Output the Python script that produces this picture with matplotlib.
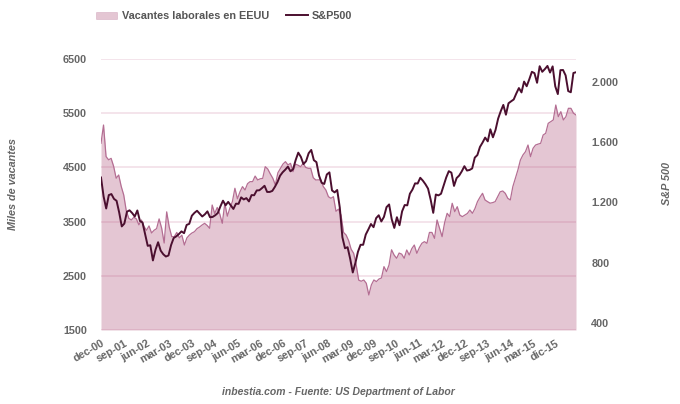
import numpy as np
import matplotlib
matplotlib.use("Agg")
import matplotlib.pyplot as plt
from matplotlib.patches import Patch
from matplotlib.lines import Line2D

plt.rcParams["font.family"] = ["Liberation Sans", "DejaVu Sans"]

# Job openings (thousands), monthly, dec-00 onwards
vacantes = [
    4945, 5282, 4700, 4640, 4667, 4520, 4300, 4360, 4150, 3990,
    3700, 3560, 3530, 3580, 3550, 3440, 3530, 3410, 3340, 3420,
    3290, 3340, 3370, 3550, 3380, 3105, 3680, 3400, 3222, 3222,
    3300, 3200, 3250, 3068, 3200, 3253, 3290, 3314, 3370, 3400,
    3437, 3468, 3430, 3376, 3806, 3650, 3760, 3640, 3468, 3837,
    3600, 3750, 3868, 4115, 3920, 4050, 4145, 4083, 4200, 4237,
    4237, 4340, 4268, 4290, 4298, 4513, 4470, 4380, 4300, 4175,
    4400, 4480, 4560, 4606, 4545, 4575, 4421, 4560, 4540, 4513,
    4575, 4500, 4483, 4483, 4310, 4268, 4270, 4268, 4145, 4083,
    3960, 3930, 3960, 3690, 3730, 3620, 3300, 3253, 3150, 2990,
    2915, 2700, 2420, 2400, 2423, 2362, 2146, 2331, 2423, 2393,
    2440, 2460, 2669, 2577, 2700, 2980, 2884, 2823, 2920, 2900,
    2823, 2976, 2884, 3000, 3068, 2915, 3020, 3100, 3130, 3099,
    3300, 3300, 3191, 3530, 3376, 3222, 3480, 3653, 3591, 3838,
    3683, 3775, 3622, 3591, 3620, 3650, 3714, 3653, 3740, 3868,
    3950, 4022, 3899, 3868, 3840, 3850, 3868, 3960, 4050, 4065,
    4022, 3930, 3899, 4145, 4298, 4452, 4637, 4729, 4790, 4913,
    4698, 4852, 4913, 4930, 4944, 5098, 5129, 5313, 5344, 5375,
    5651, 5436, 5528, 5375, 5436, 5590, 5590, 5500, 5467,
]

# S&P500 monthly close, jan-01 .. apr-16 (own hidden x axis)
sp500 = [
    1366, 1240, 1160, 1249, 1256, 1224, 1211, 1134, 1041, 1060, 1139, 1148,
    1130, 1107, 1147, 1077, 1067, 990, 912, 916, 815, 886, 936, 880,
    856, 841, 848, 917, 964, 975, 990, 1008, 996, 1051, 1058, 1112,
    1131, 1145, 1126, 1107, 1121, 1141, 1102, 1104, 1115, 1130, 1174, 1212,
    1181, 1204, 1181, 1157, 1192, 1191, 1234, 1220, 1229, 1207, 1249, 1248,
    1280, 1281, 1295, 1311, 1270, 1270, 1277, 1304, 1336, 1378, 1401, 1418,
    1438, 1407, 1421, 1482, 1531, 1503, 1455, 1474, 1527, 1549, 1481, 1468,
    1379, 1331, 1323, 1386, 1400, 1280, 1267, 1283, 1166, 969, 896, 903,
    826, 735, 798, 873, 919, 919, 987, 1021, 1057, 1036, 1096, 1115,
    1074, 1104, 1169, 1187, 1089, 1031, 1102, 1049, 1141, 1183, 1181, 1258,
    1286, 1327, 1326, 1364, 1345, 1321, 1292, 1219, 1131, 1253, 1247, 1258,
    1312, 1366, 1408, 1398, 1310, 1362, 1379, 1407, 1441, 1412, 1416, 1426,
    1498, 1515, 1569, 1598, 1631, 1606, 1686, 1633, 1682, 1757, 1806, 1848,
    1783, 1859, 1872, 1884, 1924, 1960, 1931, 2003, 1972, 2018, 2068, 2059,
    1995, 2105, 2068, 2086, 2107, 2063, 2104, 1972, 1920, 2079, 2080, 2044,
    1940, 1932, 2060, 2065,
]

etiquetas = ["dec-00", "sep-01", "jun-02", "mar-03", "dec-03", "sep-04",
             "jun-05", "mar-06", "dec-06", "sep-07", "jun-08", "mar-09",
             "dec-09", "sep-10", "jun-11", "mar-12", "dec-12", "sep-13",
             "jun-14", "mar-15", "dic-15"]
paso_etiquetas = 9

izq_ticks = [1500, 2500, 3500, 4500, 5500, 6500]
der_ticks = [400, 800, 1200, 1600, 2000]
der_labels = ["400", "800", "1.200", "1.600", "2.000"]

txt = "#666666"
fill_col = "#a8436f"
edge_col = "#b46e93"
sp_col = "#4b0f2f"
grid_col = "#f2dfe8"
fs = 7.8

fig = plt.figure(figsize=(6.8, 4.04), dpi=100)
rect = [101 / 680, 1 - 330 / 404, 475 / 680, 271 / 404]
ax = fig.add_axes(rect)

x = np.arange(len(vacantes))
ax.fill_between(x, 1500, vacantes, color=fill_col, alpha=0.3, lw=0, zorder=2)
ax.plot(x, vacantes, color=edge_col, lw=0.9, zorder=3)
ax.set_xlim(0, len(vacantes) - 1)
ax.set_ylim(1500, 6500)
ax.set_yticks(izq_ticks)
ax.set_yticklabels([str(v) for v in izq_ticks])
for y in izq_ticks:
    ax.axhline(y, color=grid_col, lw=1.2, zorder=1)
ax.set_xticks(np.arange(len(etiquetas)) * paso_etiquetas)
ax.set_xticklabels(etiquetas, rotation=30, ha="right", rotation_mode="anchor")
for s in ax.spines.values():
    s.set_visible(False)
ax.tick_params(axis="both", length=0, labelsize=fs, labelcolor=txt)
ax.tick_params(axis="y", pad=10)
ax.tick_params(axis="x", pad=6)
for lab in ax.get_xticklabels() + ax.get_yticklabels():
    lab.set_fontweight("bold")
ax.set_ylabel("Miles de vacantes", fontsize=fs, fontweight="bold",
              fontstyle="italic", color=txt)
ax.yaxis.set_label_coords(-0.175, 0.54)

ax2 = fig.add_axes(rect, frameon=False)
ax2.plot(np.arange(len(sp500)), sp500, color=sp_col, lw=1.4, zorder=4)
ax2.set_xlim(0, len(sp500) - 1)
ax2.set_ylim(353, 2153)
ax2.xaxis.set_visible(False)
ax2.yaxis.tick_right()
ax2.yaxis.set_label_position("right")
ax2.set_yticks(der_ticks)
ax2.set_yticklabels(der_labels)
ax2.tick_params(axis="y", length=0, labelsize=fs, labelcolor=txt, pad=11)
for lab in ax2.get_yticklabels():
    lab.set_fontweight("bold")
ax2.set_ylabel("S&P 500", fontsize=fs, fontweight="bold", fontstyle="italic",
               color=txt, rotation=90)
ax2.yaxis.set_label_coords(1.182, 0.54)

handles = [Patch(facecolor=fill_col, alpha=0.3, edgecolor=edge_col, lw=0.6),
           Line2D([], [], color=sp_col, lw=1.4)]
fig.legend(handles, ["Vacantes laborales en EEUU", "S&P500"],
           loc="center", bbox_to_anchor=(224 / 680, 1 - 16 / 404), ncol=2,
           frameon=False, handlelength=2.0, handleheight=0.6,
           columnspacing=1.6, handletextpad=0.4,
           prop={"weight": "bold", "size": 7.8})
for t in fig.legends[0].get_texts():
    t.set_color("#555555")

fig.text(338 / 680, 1 - 392 / 404, "inbestia.com - Fuente: US Department of Labor",
         ha="center", va="center", fontsize=7.5, fontweight="bold",
         fontstyle="italic", color=txt)

fig.savefig("out.png", dpi=100)
